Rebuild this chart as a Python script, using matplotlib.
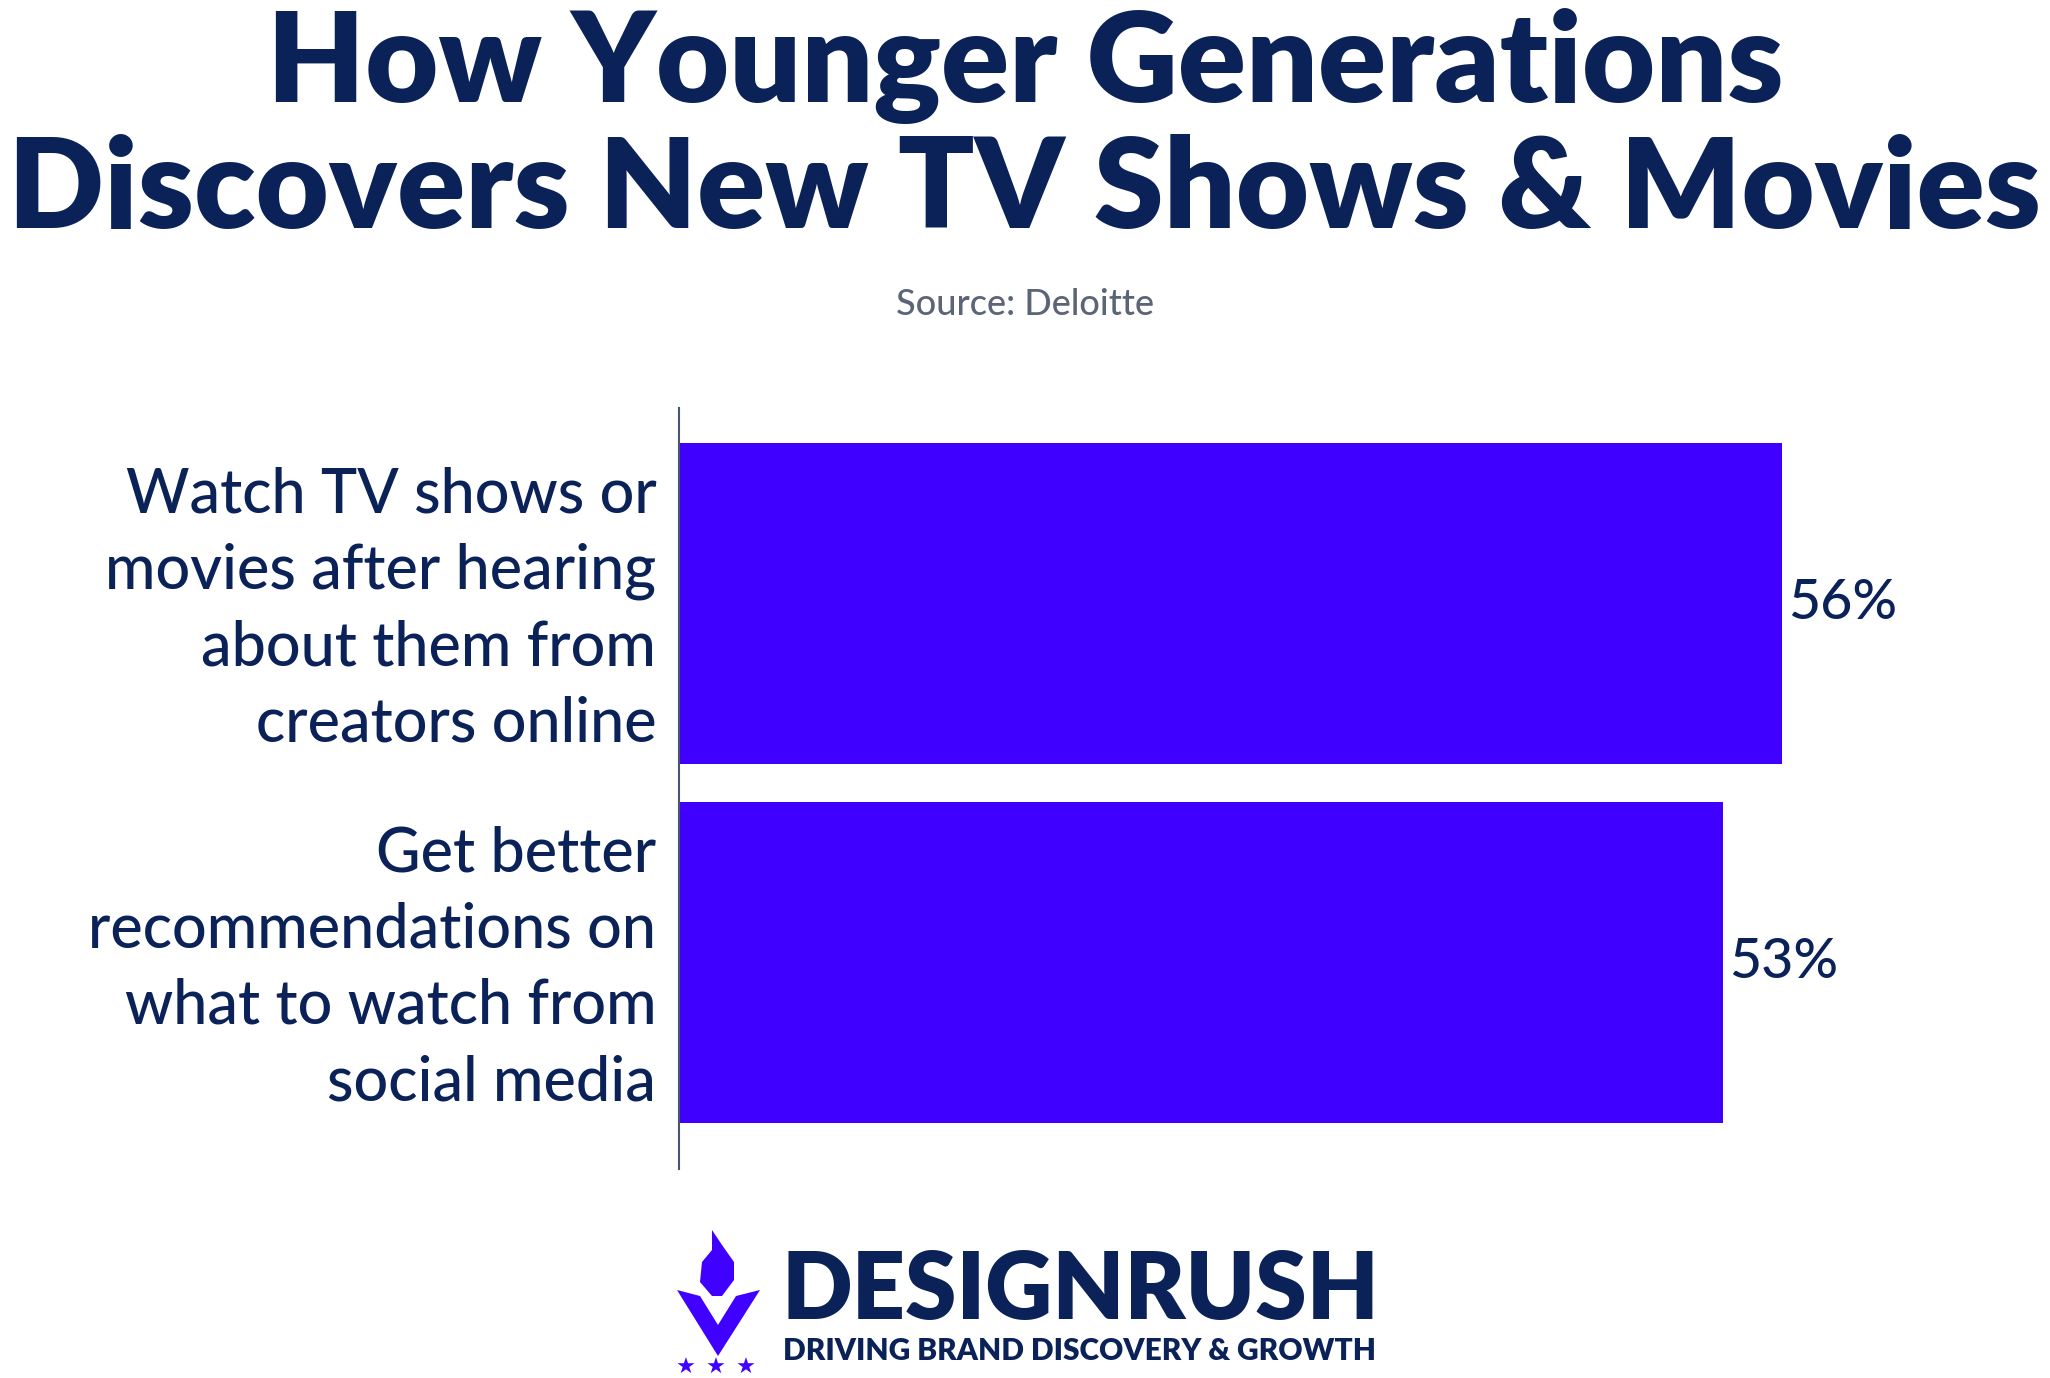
import matplotlib
matplotlib.use("Agg")
import matplotlib.pyplot as plt
import matplotlib.transforms as mtransforms
from matplotlib.patches import Polygon
import numpy as np

categories = [
    "Watch TV shows or\nmovies after hearing\nabout them from\ncreators online",
    "Get better\nrecommendations on\nwhat to watch from\nsocial media",
]
values = [56, 53]
value_labels = ["56%", "53%"]

title = "How Younger Generations\nDiscovers New TV Shows & Movies"
source = "Source: Deloitte"

NAVY = "#0b2259"
BAR = "#4000ff"
GRAY = "#5b6577"

fig = plt.figure(figsize=(20.5, 13.78), dpi=100)
fig.patch.set_facecolor("white")

ax = fig.add_axes([0.331, 0.152, 0.619, 0.552])
y = np.arange(len(categories))
ax.barh(y, values, height=0.894, color=BAR, edgecolor="none")
ax.set_ylim(1.575, -0.544)
ax.set_xlim(0, 64.4)
ax.set_yticks(y)
ax.set_yticklabels(categories, fontsize=44, color=NAVY, family="Lato",
                   fontweight="medium", linespacing=1.42, ha="right")
ax.tick_params(axis="y", length=0, pad=16)
offset = mtransforms.ScaledTranslation(0, 0.09, fig.dpi_scale_trans)
for lbl in ax.get_yticklabels():
    lbl.set_transform(lbl.get_transform() + offset)
ax.set_xticks([])
for s in ["top", "right", "bottom"]:
    ax.spines[s].set_visible(False)
ax.spines["left"].set_color("#4a5573")
ax.spines["left"].set_linewidth(1.5)

for yi, v, lab in zip(y, values, value_labels):
    ax.text(v + 0.3, yi, lab, va="center", ha="left", fontsize=40,
            color=NAVY, family="Lato", fontweight="medium")

fig.text(0.5, 0.994, title, ha="center", va="top", fontsize=91,
         color=NAVY, family="Lato", fontweight="heavy", linespacing=1.1)
fig.text(0.5, 0.779, source, ha="center", va="center", fontsize=26,
         color=GRAY, family="Lato", fontweight="medium")

# Logo
fig.text(0.381, 1 - 1319 / 1378, "DESIGNRUSH", ha="left", va="baseline",
         fontsize=67, color=NAVY, family="Lato", fontweight="heavy")
fig.text(0.382, 1 - 1360 / 1378, "DRIVING BRAND DISCOVERY & GROWTH",
         ha="left", va="baseline", fontsize=21.5, color=NAVY, family="Lato",
         fontweight="heavy")

W, H = 2050, 1378
def P(x, yy):
    return (x / W, 1 - yy / H)

vshape = [P(677, 1290), P(700, 1296), P(718, 1325), P(736, 1296), P(760, 1290),
          P(718, 1356)]
fig.patches.append(Polygon(vshape, closed=True, transform=fig.transFigure,
                           facecolor=BAR, edgecolor="none"))
flame = [P(712, 1230), P(722, 1245), P(734, 1262), P(734, 1280), P(722, 1296),
         P(712, 1296), P(700, 1282), P(702, 1262), P(712, 1250)]
fig.patches.append(Polygon(flame, closed=True, transform=fig.transFigure,
                           facecolor=BAR, edgecolor="none"))
for sx in [686, 716, 746]:
    fig.text(sx / W, 1 - 1368 / H, "\u2605", ha="center", va="center",
             fontsize=16, color=BAR, family="DejaVu Sans")

fig.savefig("out.png", dpi=100, facecolor="white")
